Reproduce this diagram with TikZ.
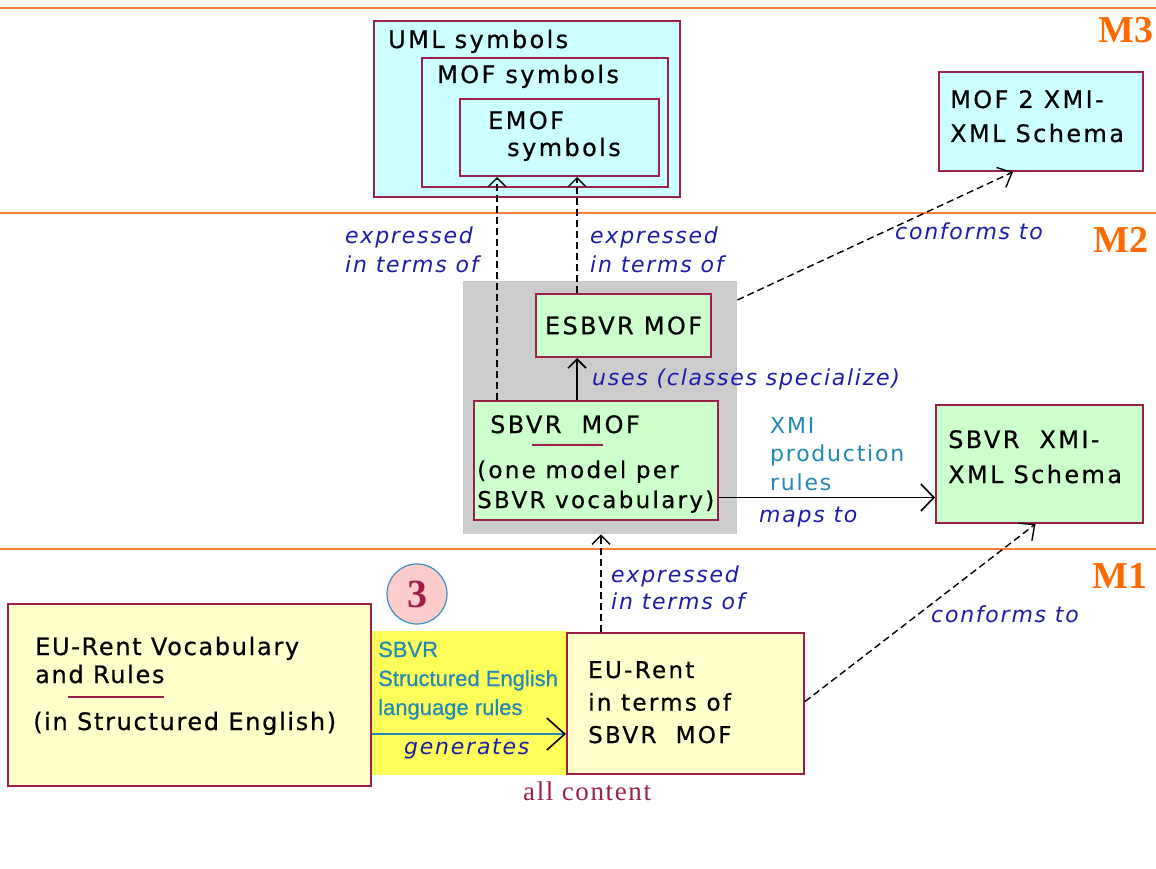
\documentclass[tikz,border=0pt]{standalone}
\usepackage{fontspec}
\usepackage{tikz}
\usetikzlibrary{arrows.meta,positioning,calc}
\newfontfamily\boxfont[LetterSpace=10,FakeBold=0.6]{DejaVu Sans}
\newfontfamily\rulefont[LetterSpace=7,FakeBold=0.6]{DejaVu Sans}
\newfontfamily\linkfont[LetterSpace=8]{DejaVu Sans}
\newfontfamily\narrowfont[FakeBold=0.5]{Liberation Sans}
\newfontfamily\levelfont{Liberation Serif}
\newfontfamily\notefont[LetterSpace=6]{Liberation Serif}
\definecolor{MetaOrange}{HTML}{FF8033}
\definecolor{MetaLevel}{HTML}{FF6A00}
\definecolor{MetaRed}{HTML}{9E1F4A}
\definecolor{MetaCyan}{HTML}{CCFFFF}
\definecolor{MetaGreen}{HTML}{CCFFCC}
\definecolor{MetaCream}{HTML}{FFFFCC}
\definecolor{MetaYellow}{HTML}{FFFF5A}
\definecolor{MetaGrey}{HTML}{CCCCCC}
\definecolor{MetaBlue}{HTML}{1C1CA8}
\definecolor{MetaTeal}{HTML}{2288B5}
\definecolor{MetaPink}{HTML}{FFCCCC}
\definecolor{MetaRing}{HTML}{3A8FC0}
\tikzset{
  levelline/.style={draw=MetaOrange,line width=2.5pt},
  levellabel/.style={font=\levelfont\bfseries\fontsize{38pt}{38pt}\selectfont,text=MetaLevel,anchor=base west,inner sep=0pt},
  metabox/.style={draw=MetaRed,line width=2pt,anchor=north west,inner sep=0pt},
  backbox/.style={anchor=north west,inner sep=0pt},
  boxtext/.style={font=\boxfont\fontsize{24pt}{33pt}\selectfont,align=left,anchor=base west,inner sep=0pt},
  linklabel/.style={font=\linkfont\itshape\fontsize{22pt}{29pt}\selectfont,text=MetaBlue,align=left,anchor=base west,inner sep=0pt},
  rulelabel/.style={font=\linkfont\fontsize{22pt}{28.5pt}\selectfont,text=MetaTeal,align=left,anchor=base west,inner sep=0pt},
  marklink/.style={draw=MetaRed,line width=1.6pt},
  dasharrow/.style={-{Straight Barb[length=9pt,width=18pt]},line width=1.4pt,dash pattern=on 7pt off 4pt},
  solidarrow/.style={-{Straight Barb[length=13pt,width=27pt]},line width=1.6pt}
}
\begin{document}
\begin{tikzpicture}[x=1pt,y=-1pt]
\fill[white] (0,0) rectangle (1156,869);
\useasboundingbox (0,0) rectangle (1156,869);
% level separators
\foreach \ly in {8,213,549} \draw[levelline] (0,\ly) -- (1156,\ly);
\node[levellabel] (m3) at (1098,43) {M3};
\node[levellabel] (m2) at (1093,252) {M2};
\node[levellabel] (m1) at (1092,588) {M1};
% M3 level
\node[metabox,fill=MetaCyan,minimum width=306pt,minimum height=176pt] (uml) at (373,20) {};
\node[metabox,fill=MetaCyan,minimum width=246pt,minimum height=129pt] (mofsym) at (421,57) {};
\node[metabox,fill=MetaCyan,minimum width=199pt,minimum height=77pt] (emof) at (459,98) {};
\node[boxtext] (umltxt) at ([shift={(15,28)}]uml.north west) {UML symbols};
\node[boxtext] (mofsymtxt) at ([shift={(16,26)}]mofsym.north west) {MOF symbols};
\node[boxtext,font=\boxfont\fontsize{24pt}{27pt}\selectfont] (emoftxt) at ([shift={(29,58)}]emof.north west) {EMOF\\\hspace{19pt}symbols};
\node[metabox,fill=MetaCyan,minimum width=204pt,minimum height=99pt] (mofxmi) at (938,71) {};
\node[boxtext,font=\boxfont\fontsize{24pt}{34pt}\selectfont] (mofxmitxt) at ([shift={(12,71)}]mofxmi.north west) {MOF 2 XMI-\\XML Schema};
% M2 level
\node[backbox,fill=MetaGrey,minimum width=274pt,minimum height=253pt] (grey) at (463,281) {};
\node[metabox,fill=MetaGreen,minimum width=175pt,minimum height=63pt,font=\boxfont\fontsize{24pt}{33pt}\selectfont] (esbvr) at (535,293) {ESBVR MOF};
\node[metabox,fill=MetaGreen,minimum width=244pt,minimum height=119pt] (sbvr) at (473,400) {};
\node[boxtext] (sbvrtxt) at ([shift={(17,33)}]sbvr.north west) {SBVR\ \ MOF};
\draw[marklink] ([shift={(59,45)}]sbvr.north west) -- ++(71,0);
\node[boxtext,font=\boxfont\fontsize{23pt}{30pt}\selectfont] (sbvrnote) at ([shift={(4,108)}]sbvr.north west) {(one model per\\SBVR vocabulary)};
\node[metabox,fill=MetaGreen,minimum width=207pt,minimum height=118pt] (sbvrxmi) at (935,404) {};
\node[boxtext,font=\boxfont\fontsize{24pt}{35pt}\selectfont] (sbvrxmitxt) at ([shift={(13,79)}]sbvrxmi.north west) {SBVR\ \ XMI-\\XML Schema};
% M1 level
\node[backbox,fill=MetaYellow,minimum width=197pt,minimum height=144pt] (hilite) at (370,631) {};
\node[metabox,fill=MetaCream,minimum width=363pt,minimum height=182pt] (eurules) at (7,603) {};
\node[boxtext,font=\rulefont\fontsize{24pt}{28pt}\selectfont] (eurulestxt) at ([shift={(28,80)}]eurules.north west) {EU-Rent Vocabulary\\and Rules};
\draw[marklink] ([shift={(61,94)}]eurules.north west) -- ++(96,0);
\node[boxtext,font=\rulefont\fontsize{24pt}{28pt}\selectfont] (eurulesnote) at ([shift={(26,127)}]eurules.north west) {(in Structured English)};
\node[metabox,fill=MetaCream,minimum width=237pt,minimum height=141pt] (eumof) at (566,632) {};
\node[boxtext,font=\boxfont\fontsize{23pt}{32.5pt}\selectfont] (eumoftxt) at ([shift={(22,111)}]eumof.north west) {EU-Rent\\in terms of\\SBVR\ \ MOF};
\node[circle,draw=MetaRing,fill=MetaPink,line width=1.2pt,minimum size=60pt,inner sep=0pt,text=MetaRed,font=\levelfont\bfseries\fontsize{40pt}{40pt}\selectfont] (badge) at (417,594) {3};
\node[font=\narrowfont\fontsize{22pt}{29pt}\selectfont,text=MetaTeal,align=left,anchor=base west,inner sep=0pt] (serules) at (378,715) {SBVR\\Structured English\\language rules};
\node[font=\notefont\fontsize{27pt}{27pt}\selectfont,text=MetaRed,anchor=base west,inner sep=0pt] (allcontent) at (523,800) {all content};
% connectors
\draw[dasharrow] ([xshift=24pt]sbvr.north west) -- ([xshift=24pt]sbvr.north west |- emof.south);
\draw[dasharrow] ([xshift=42pt]esbvr.north west) -- ([xshift=42pt]esbvr.north west |- emof.south);
\draw[solidarrow,-{Straight Barb[length=9pt,width=18pt]}] ([xshift=104pt]sbvr.north west) -- ([xshift=104pt]sbvr.north west |- esbvr.south);
\draw[dasharrow,-{Straight Barb[length=12pt,width=22pt]}] ([yshift=-19pt]grey.north east) -- ([xshift=-28pt]mofxmi.south);
\draw[solidarrow] ([yshift=-37pt]sbvr.east) -- ([yshift=-37pt]sbvr.east -| sbvrxmi.west);
\draw[dasharrow] ([xshift=35pt]eumof.north west) -- ([xshift=35pt]eumof.north west |- grey.south);
\draw[dasharrow,-{Straight Barb[length=12pt,width=22pt]}] ([yshift=2pt]eumof.east) -- ([xshift=-4pt]sbvrxmi.south);
\draw[solidarrow,draw=MetaTeal,-{Straight Barb[length=18pt,width=32pt,color=black]}] ([yshift=-39pt]eurules.east) -- ([yshift=-39pt]eurules.east -| eumof.west);
% connector labels
\node[linklabel] (exprleft) at (345,272) {expressed\\in terms of};
\node[linklabel] (exprright) at (590,272) {expressed\\in terms of};
\node[linklabel] (confup) at (895,240) {conforms to};
\node[linklabel] (uses) at (592,385) {uses (classes specialize)};
\node[rulelabel] (xmirules) at ([shift={(51,90)}]sbvr.north east) {XMI\\production\\rules};
\node[linklabel] (mapsto) at ([shift={(40,122)}]sbvr.north east) {maps to};
\node[linklabel,font=\linkfont\itshape\fontsize{22pt}{27pt}\selectfont] (exprlow) at (611,609) {expressed\\in terms of};
\node[linklabel] (confdown) at (931,622) {conforms to};
\node[linklabel] (generates) at (404,754) {generates};
\end{tikzpicture}
\end{document}
